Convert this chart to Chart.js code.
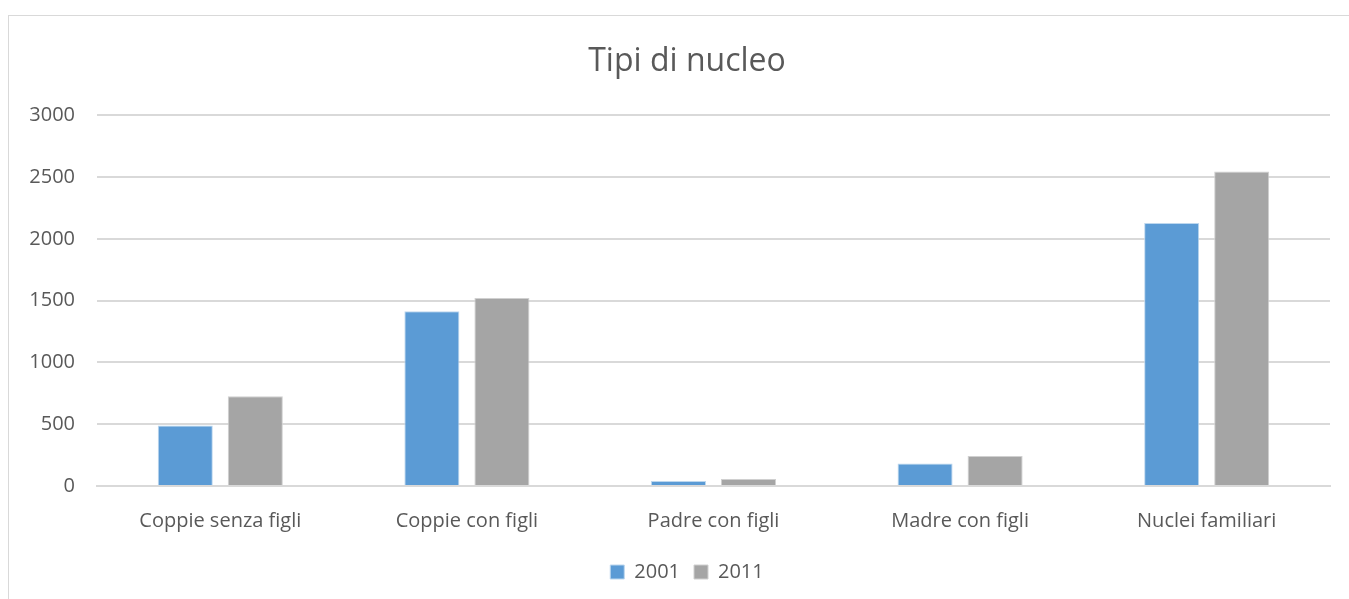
<!DOCTYPE html>
<html>
<head>
<meta charset="utf-8">
<script src="https://cdn.jsdelivr.net/npm/chart.js@4/dist/chart.umd.min.js"></script>
<style>
  body { margin: 0; background: #fff; overflow: hidden; }
  #frame { position: absolute; left: 8px; top: 15px; width: 1400px; height: 700px; border: 1px solid #d9d9d9; }
  #wrap { position: absolute; left: 0; top: 0; width: 1374px; height: 599px; }
</style>
</head>
<body>
<div id="frame"></div>
<div id="wrap"><canvas id="barChart"></canvas></div>
<script>
// chart data
const categories = ['Coppie senza figli', 'Coppie con figli', 'Padre con figli', 'Madre con figli', 'Nuclei familiari'];
const values2001 = [490, 1414, 40, 183, 2129];
const values2011 = [726, 1522, 56, 242, 2546];
const yTicks = [0, 500, 1000, 1500, 2000, 2500, 3000];

const textColor = '#595959';
const fontFamily = '"Open Sans", "Liberation Sans", sans-serif';

const ctxBar = document.getElementById('barChart').getContext('2d');

new Chart(ctxBar, {
    type: 'bar',
    data: {
        labels: categories,
        datasets: [
            { label: '2001', data: values2001, backgroundColor: '#5b9bd5', borderColor: '#bdd7ee', borderWidth: 1 },
            { label: '2011', data: values2011, backgroundColor: '#a5a5a5', borderColor: '#d0d0d0', borderWidth: 1 }
        ]
    },
    options: {
        responsive: true,
        maintainAspectRatio: false,
        animation: false,
        categoryPercentage: 0.568,
        barPercentage: 0.786,
        layout: { padding: { top: 15, right: 0, bottom: 7, left: 0 } },
        plugins: {
            title: {
                display: true,
                text: 'Tipi di nucleo',
                color: textColor,
                font: { family: fontFamily, size: 32, weight: 'normal' },
                padding: { top: 28, bottom: 34 }
            },
            legend: {
                display: true,
                position: 'bottom',
                labels: {
                    color: textColor,
                    font: { family: fontFamily, size: 20 },
                    boxWidth: 14,
                    boxHeight: 14,
                    padding: 14
                }
            },
            tooltip: { enabled: false }
        },
        scales: {
            x: {
                grid: { display: false },
                border: { display: true, color: '#d9d9d9', width: 2 },
                ticks: { color: textColor, font: { family: fontFamily, size: 20 }, padding: 15 }
            },
            y: {
                min: 0,
                max: 3000,
                afterBuildTicks: (axis) => { axis.ticks = yTicks.map(v => ({ value: v })); },
                afterFit: (axis) => { axis.width = 97; },
                grid: { color: '#d9d9d9', lineWidth: 2, drawTicks: false },
                border: { display: false },
                ticks: {
                    color: textColor,
                    font: { family: fontFamily, size: 20 },
                    padding: 22,
                    callback: (value) => String(value)
                }
            },
            // empty right-hand spacer so the plot ends where the reference does
            yRight: {
                position: 'right',
                min: 0,
                max: 3000,
                afterFit: (axis) => { axis.width = 44; },
                grid: { display: false },
                border: { display: false },
                ticks: { display: false }
            }
        }
    }
});
</script>
</body>
</html>
